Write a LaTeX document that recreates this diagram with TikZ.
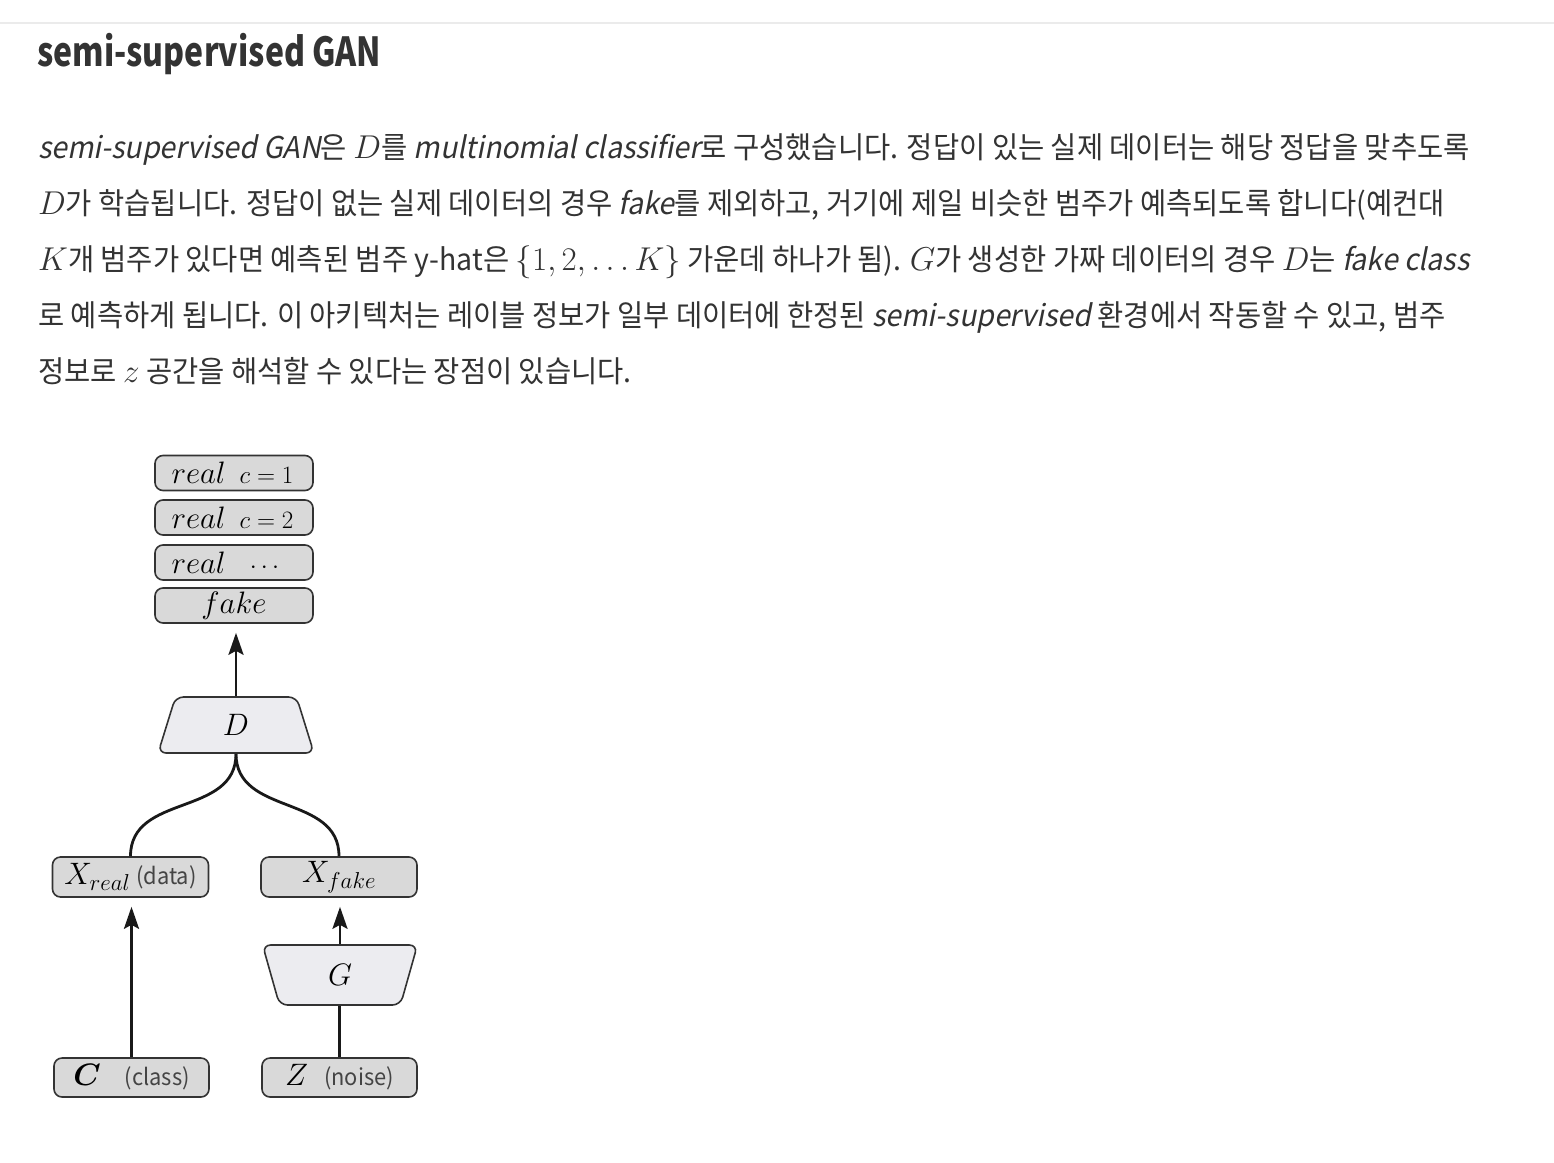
\RequirePackage{fix-cm}
\documentclass[tikz,border=0pt]{standalone}
\usepackage{amsmath,amssymb}
\usepackage[no-math]{fontspec}
\setmainfont{Noto Sans CJK KR}[FakeStretch=0.95,ItalicFont={Noto Sans CJK KR},ItalicFeatures={FakeSlant=0.2}]
\newfontfamily\headfamily{Noto Sans CJK KR}[FakeStretch=0.8]
\usetikzlibrary{shapes.geometric,arrows.meta}

\DeclareMathSizes{30}{33}{24}{19}
\DeclareMathSizes{28}{31}{23}{18}
\DeclareMathSizes{23}{25}{18}{14}

\definecolor{inkgray}{HTML}{333333}
\definecolor{notegray}{HTML}{444444}
\definecolor{boxgray}{HTML}{D9D9D9}
\definecolor{netgray}{HTML}{ECECF0}
\definecolor{rulegray}{HTML}{EBEBEB}

\newcommand{\headfont}{\fontsize{40}{40}\selectfont\headfamily\bfseries}
\newcommand{\bodyfont}{\fontsize{30}{56}\selectfont}
\newcommand{\boxfont}{\fontsize{28}{30}\selectfont}
\newcommand{\smallnote}{\fontsize{23}{24}\selectfont}

\tikzset{
  para/.style={anchor=base west,inner sep=0pt,text=inkgray,font=\bodyfont},
  outbox/.style={draw=black!80,fill=boxgray,line width=1.6pt,rounded corners=8pt,
    minimum width=158pt,minimum height=35pt,inner sep=0pt,font=\boxfont},
  inbox/.style={outbox,minimum width=156pt,minimum height=40pt},
  net/.style={trapezium,trapezium stretches=true,draw=black!80,fill=netgray,
    line width=1.6pt,rounded corners=8pt,inner sep=0pt,font=\boxfont},
  flow/.style={line width=2.8pt,black!90},
  feed/.style={flow,->,shorten >=9pt}
}

\begin{document}
\begin{tikzpicture}[x=1pt,y=-1pt,>={Stealth[length=22pt,width=15pt,inset=4pt]}]

\useasboundingbox (0,0) rectangle (1554,1162);
\fill[white] (0,0) rectangle (1554,1162);
\draw[rulegray,line width=2pt] (0,23) -- (1554,23);

% heading and text
\node[anchor=base west,inner sep=0pt,text=inkgray,font=\headfont] (title) at (37,66) {semi-supervised GAN};

\node[para] (l1) at (38,158) {\textit{semi-supervised GAN}은 $D$를 \textit{multinomial classifier}로 구성했습니다. 정답이 있는 실제 데이터는 해당 정답을 맞추도록};
\node[para] (l2) at (38,214) {$D$가 학습됩니다. 정답이 없는 실제 데이터의 경우 \textit{fake}를 제외하고, 거기에 제일 비슷한 범주가 예측되도록 합니다(예컨대};
\node[para] (l3) at (38,270) {$K$개 범주가 있다면 예측된 범주 y-hat은 $\{1,2,\ldots K\}$ 가운데 하나가 됨). $G$가 생성한 가짜 데이터의 경우 $D$는 \textit{fake class}};
\node[para] (l4) at (38,326) {로 예측하게 됩니다. 이 아키텍처는 레이블 정보가 일부 데이터에 한정된 \textit{semi-supervised} 환경에서 작동할 수 있고, 범주};
\node[para] (l5) at (38,382) {정보로 $z$ 공간을 해석할 수 있다는 장점이 있습니다.};

% outputs of D
\node[outbox] (real1) at (234,473) {\makebox[53pt][l]{$real$}\hspace{12pt}\makebox[60pt]{\smallnote$c=1$}};
\node[outbox] (real2) at (234,517.5) {\makebox[53pt][l]{$real$}\hspace{12pt}\makebox[60pt]{\smallnote$c=2$}};
\node[outbox] (real3) at (234,562.5) {\makebox[53pt][l]{$real$}\hspace{12pt}\makebox[60pt]{\smallnote$\cdots$}};
\node[outbox] (fake) at (234,605.5) {$fake$};

% networks
\node[net,minimum width=156pt,minimum height=56pt,
  trapezium left angle=80,trapezium right angle=80] (D) at (236,725) {$D$};
\node[net,minimum width=155pt,minimum height=60pt,shape border rotate=180,
  trapezium left angle=81,trapezium right angle=81] (G) at (340,975) {$G$};

% inputs
\node[inbox] (xreal) at (130.5,877) {$X_{real}$ {\smallnote\color{notegray}(data)}};
\node[inbox] (xfake) at (339,877) {$X_{fake}$};
\node[inbox,minimum width=155pt,minimum height=39pt] (cls) at (131.5,1077.5)
  {$\boldsymbol{C}$\hspace{24pt}{\smallnote\color{notegray}(class)}};
\node[inbox,minimum width=155pt,minimum height=39pt] (noise) at (339.5,1077.5)
  {$Z$\hspace{16pt}{\smallnote\color{notegray}(noise)}};

% connectors
\draw[feed] (D.north) -- (D.north |- fake.south);
\draw[flow] (D.south) to[out=-90,in=90,looseness=1.1] (xreal.north);
\draw[flow] (D.south) to[out=-90,in=90,looseness=1.1] (xfake.north);
\draw[feed] (cls.north) -- (cls.north |- xreal.south);
\draw[feed] (G.north) -- (G.north |- xfake.south);
\draw[flow] (noise.north) -- (noise.north |- G.south);

\end{tikzpicture}
\end{document}
